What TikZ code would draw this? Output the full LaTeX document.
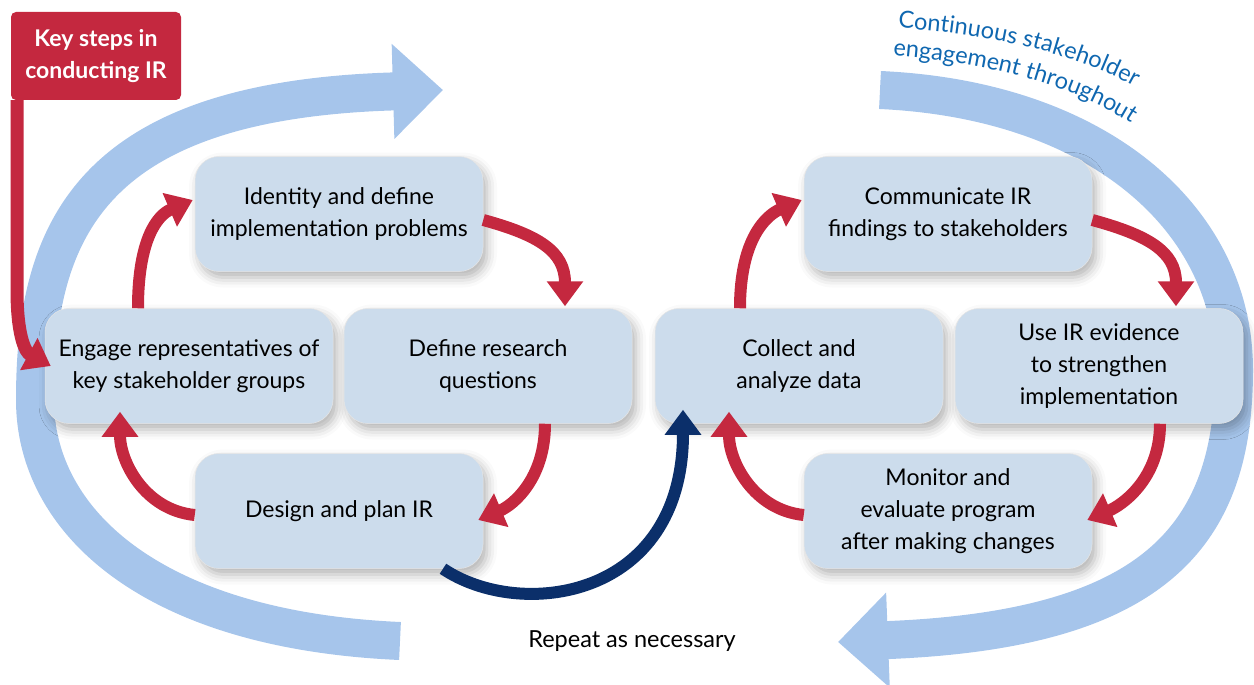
\documentclass[tikz,border=0pt]{standalone}
\usepackage{fontspec}
\setmainfont{Lato}
\usetikzlibrary{arrows.meta,shadows.blur,decorations.text,calc}
\definecolor{boxfill}{HTML}{CCDCEC}
\definecolor{irred}{HTML}{C4283F}
\definecolor{navy}{HTML}{0B2F6A}
\definecolor{band}{HTML}{A6C5EB}
\definecolor{txtblue}{HTML}{0F67B0}
\newcommand\bluetxt{\fontsize{23.5}{26}\selectfont\color{txtblue}}
\begin{document}
\begin{tikzpicture}[x=1pt,y=-1pt,
  stepbox/.style={fill=boxfill, draw=black!10, line width=0.5pt, rounded corners=24pt,
    minimum width=288pt, minimum height=115pt, align=center, inner sep=2pt,
    font=\fontsize{23}{32}\selectfont,
    blur shadow={shadow xshift=4pt, shadow yshift=-6pt, shadow blur radius=10pt, shadow opacity=30}},
  keybox/.style={fill=irred, text=white, rounded corners=5pt, minimum width=170pt,
    minimum height=88pt, align=center, font=\fontsize{23}{32}\selectfont\bfseries},
  redarr/.style={draw=irred, line width=12pt, -{Triangle[width=35pt,length=25pt]}},
  navyarr/.style={draw=navy, line width=12pt, -{Triangle[width=35pt,length=25pt]}},
  bandarr/.style={draw=band, line width=38pt, -{Triangle[width=92pt,length=50pt]}}
]
\useasboundingbox (0,0) rectangle (1254,685);
% big light-blue arrows
\coordinate (lbS) at (400,641);
\coordinate (lbE) at (443,90);
\draw[bandarr] (lbS) .. controls (150,630) and (35,520) .. (35,400)
  .. controls (35,230) and (90,100) .. (lbE);
\coordinate (rbS) at (880,90);
\coordinate (rbE) at (838,642);
\draw[bandarr] (rbS) .. controls (1100,100) and (1234,220) .. (1234,370)
  .. controls (1234,540) and (1150,630) .. (rbE);
% boxes
\node[stepbox] (ident) at (339,214) {Identity and define\\implementation problems};
\node[stepbox] (engage) at (189,366) {Engage representatives of\\key stakeholder groups};
\node[stepbox] (define) at (488,366) {Define research\\questions};
\node[stepbox] (design) at (339,511) {Design and plan IR};
\node[stepbox] (collect) at (799,366) {Collect and\\analyze data};
\node[stepbox] (comm) at (948,214) {Communicate IR\\findings to stakeholders};
\node[stepbox] (use) at (1099,366) {Use IR evidence\\to strengthen\\implementation};
\node[stepbox] (monitor) at (948,511) {Monitor and\\evaluate program\\after making changes};
% key label
\node[keybox] (key) at (96,56) {Key steps in\\conducting IR};
\draw[draw=irred, line width=13pt, -{Triangle[width=35pt,length=25pt]}]
  ([xshift=-79pt]key.south) -- (17,290) .. controls (17,335) and (25,352) .. ([xshift=6pt]engage.west);
% left cycle
\draw[redarr] ([xshift=-51pt]engage.north) .. controls +(0,-70) and +(-35,15) .. ([xshift=-2pt,yshift=14pt]ident.west);
\draw[redarr] ([yshift=-6pt]ident.east) .. controls +(55,15) and +(0,-55) .. ([xshift=77pt,yshift=2pt]define.north);
\draw[redarr] ([xshift=57pt]define.south) .. controls +(0,55) and +(35,-15) .. ([xshift=-5pt,yshift=-9pt]design.east);
\draw[redarr] ([yshift=-4pt]design.west) .. controls +(-50,-5) and +(0,50) .. ([xshift=-69pt,yshift=12pt]engage.south);
% right cycle
\draw[redarr] ([xshift=-59pt]collect.north) .. controls +(0,-70) and +(-35,15) .. ([xshift=-2pt,yshift=14pt]comm.west);
\draw[redarr] ([yshift=-6pt]comm.east) .. controls +(55,15) and +(0,-55) .. ([xshift=77pt,yshift=2pt]use.north);
\draw[redarr] ([xshift=61pt]use.south) .. controls +(0,55) and +(35,-15) .. ([xshift=-5pt,yshift=-9pt]monitor.east);
\draw[redarr] ([yshift=-4pt]monitor.west) .. controls +(-50,-5) and +(0,50) .. ([xshift=-70pt,yshift=12pt]collect.south);
% repeat arrow
\draw[navyarr] ([xshift=104pt]design.south) .. controls +(77,52) and +(0,190) .. ([xshift=-116pt,yshift=14pt]collect.south);
\node[font=\fontsize{23.5}{26}\selectfont] (rep) at (632,641) {Repeat as necessary};
% curved blue text
\path[decorate, decoration={text along path, text align=left,
  text={|\bluetxt|Continuous stakeholder}}]
  (898,28) .. controls (995,34) and (1110,58) .. (1175,115);
\path[decorate, decoration={text along path, text align=left,
  text={|\bluetxt|engagement throughout}}]
  (893,56) .. controls (990,63) and (1095,88) .. (1160,145);
\end{tikzpicture}
\end{document}
